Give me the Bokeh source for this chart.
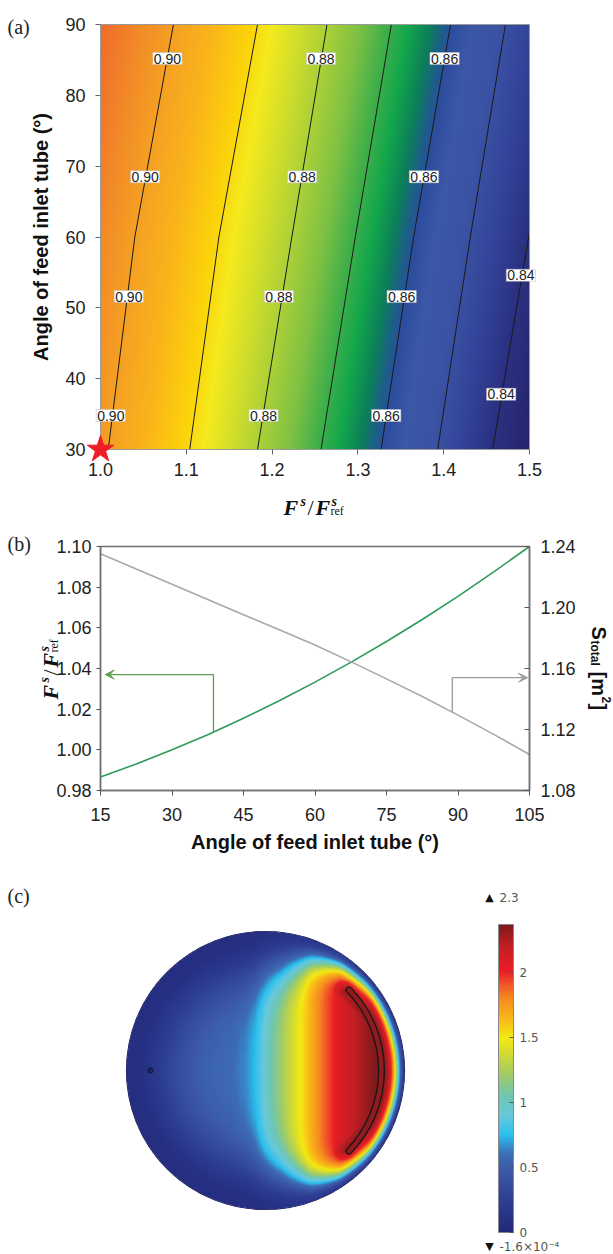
import numpy as np
from bokeh.plotting import figure
from bokeh.models import (Range1d, LinearAxis, FixedTicker, NumeralTickFormatter, Label, Grid,
                          LinearColorMapper, ColorBar, Arrow, VeeHead, CustomJSTickFormatter)
from bokeh.embed import file_html
from bokeh.resources import INLINE

SANS = "Liberation Sans"
SERIF = "Liberation Serif"

# ---------------- panel (a) data ----------------
a_levels = [0.90, 0.89, 0.88, 0.87, 0.86, 0.85, 0.84]
a_rows = [30, 60, 90]                       # angles where contour crossings were read
a_cross_30 = [1.009, 1.104, 1.183, 1.257, 1.327, 1.393, 1.457]
a_cross_60 = [1.040, 1.138, 1.223, 1.297, 1.365, 1.431, 1.499]
a_cross_90 = [1.085, 1.183, 1.264, 1.339, 1.408, 1.472, 1.540]
a_label_text = ["0.90", "0.90", "0.90", "0.90", "0.88", "0.88", "0.88", "0.88",
                "0.86", "0.86", "0.86", "0.86", "0.84", "0.84"]
a_label_x = [1.078, 1.052, 1.033, 1.012, 1.257, 1.235, 1.208, 1.190,
             1.401, 1.377, 1.351, 1.333, 1.490, 1.467]
a_label_y = [85.2, 68.5, 51.6, 34.8, 85.2, 68.5, 51.6, 34.8,
             85.2, 68.5, 51.6, 34.8, 54.6, 37.8]
a_xticks = [1.0, 1.1, 1.2, 1.3, 1.4, 1.5]
a_yticks = [30, 40, 50, 60, 70, 80, 90]
a_star = [1.0, 30]

# ---------------- panel (b) data ----------------
b_angle = [15, 22.5, 30, 37.5, 45, 52.5, 60, 67.5, 75, 82.5, 90, 97.5, 105]
b_ratio = [0.9866, 0.9930, 1.0000, 1.0074, 1.0155, 1.0241, 1.0333, 1.0430,
           1.0533, 1.0641, 1.0755, 1.0875, 1.1000]
b_area = [1.2352, 1.2252, 1.2153, 1.2053, 1.1953, 1.1854, 1.1754, 1.1645,
          1.1532, 1.1416, 1.1294, 1.1168, 1.1036]
b_xticks = [15, 30, 45, 60, 75, 90, 105]
b_lticks = [0.98, 1.00, 1.02, 1.04, 1.06, 1.08, 1.10]
b_rticks = [1.08, 1.12, 1.16, 1.20, 1.24]
b_green_arrow = [38.7, 1.037, 16.0]    # x on curve, level, arrow tip x
b_gray_arrow = [88.8, 1.154, 104.6]

# ---------------- panel (c) data ----------------
c_center = [265, 1070]      # page px
c_radius = 139
c_arc_radius = 116
c_arc_half_deg = 44
c_dot = [150, 1070]
c_prof_x = [126, 150, 190, 230, 245, 255, 265, 280, 292, 300, 312, 325, 340, 360, 375, 404]
c_prof_v = [0.58, 0.58, 0.58, 0.60, 0.66, 0.76, 0.95, 1.20, 1.38, 1.50, 1.70, 1.90,
            2.10, 2.25, 2.37, 2.37]
c_wall_x = [126, 250, 280, 310, 340, 370]
c_wall_len = [55, 55, 45, 25, 14, 10]
c_src_s = [0, 8, 15, 25, 40]
c_src_v = [2.37, 2.25, 2.05, 1.60, 0.0]
cb_low, cb_high = 0.0, 2.37
cb_ticks = [0, 0.5, 1, 1.5, 2]
cb_max_text = "2.3"
cb_min_text = "-1.6×10⁻⁴"

# ---------------- styles / geometry (page pixels) ----------------
PW, PH = 613, 1254
A_L, A_R, A_T, A_B = 100, 529, 24, 449
B_L, B_R, B_T, B_B = 100, 529, 546, 790

a_stop_v = [0.833, 0.840, 0.846, 0.851, 0.856, 0.8595, 0.861, 0.8635, 0.867, 0.871,
            0.875, 0.8805, 0.884, 0.888, 0.891, 0.8955, 0.900, 0.904, 0.9087]
a_stop_c = ["#25246E", "#2A3080", "#33449A", "#3A52A3", "#3C57A7", "#2D4D9E", "#1E5C8C",
            "#0C7F59", "#12A64B", "#44B049", "#7EC143", "#B0D236", "#D2DE2A", "#F5EA1D",
            "#FCD20A", "#F9B41A", "#F5A023", "#F28A27", "#EE6B2B"]
c_stop_v = [0.0, 0.20, 0.45, 0.60, 0.75, 0.90, 1.05, 1.20, 1.35, 1.50, 1.65, 1.80, 1.92,
            2.02, 2.20, 2.37]
c_stop_c = ["#23297A", "#2B3A8F", "#3B57A6", "#3C6CB4", "#2BC0EE", "#67C8DC", "#6FC6B0",
            "#9CCB6C", "#CBD83A", "#F4EA12", "#F9B618", "#F68B1F", "#F0502A", "#EC1C24",
            "#C41E24", "#7E1A1C"]


def ramp(vals, cols, n):
    rgb = np.array([[int(c[i:i + 2], 16) for i in (1, 3, 5)] for c in cols], float)
    t = np.linspace(vals[0], vals[-1], n)
    out = []
    for tt in t:
        r, g, b = (np.interp(tt, vals, rgb[:, k]) for k in range(3))
        out.append("#%02x%02x%02x" % (int(round(r)), int(round(g)), int(round(b))))
    return out


def rng(v0, v1, p0, p1, total):
    k = (v1 - v0) / (p1 - p0)
    return Range1d(v0 - p0 * k, v0 + (total - p0) * k)


def pg(px, py):
    return px, PH - py


p = figure(width=PW, height=PH, x_range=Range1d(0, PW), y_range=Range1d(0, PH),
           x_axis_location=None, y_axis_location=None, min_border=0,
           toolbar_location=None, output_backend="svg", title=None)
p.outline_line_color = None
p.center = [c for c in p.center if not isinstance(c, Grid)]

p.extra_x_ranges = {"ax": rng(a_xticks[0], a_xticks[-1], A_L, A_R, PW),
                    "bx": rng(b_xticks[0], b_xticks[-1], B_L, B_R, PW)}
p.extra_y_ranges = {"ay": rng(a_yticks[0], a_yticks[-1], PH - A_B, PH - A_T, PH),
                    "by": rng(b_lticks[0], b_lticks[-1], PH - B_B, PH - B_T, PH),
                    "br": rng(b_rticks[0], b_rticks[-1], PH - B_B, PH - B_T, PH)}
RA = dict(x_range_name="ax", y_range_name="ay")
RB = dict(x_range_name="bx", y_range_name="by")
RR = dict(x_range_name="bx", y_range_name="br")


def style_axis(ax, size="18px"):
    ax.major_label_text_font = SANS
    ax.major_label_text_font_size = size
    ax.major_label_text_color = "#222222"
    ax.minor_tick_line_color = None
    ax.axis_label_text_font = SANS
    ax.axis_label_text_font_size = "20px"
    ax.axis_label_text_font_style = "bold"
    ax.axis_label_text_color = "#111111"


def compose(pieces, bx, by, angle):
    for text, along, off, size, style, font in pieces:
        if angle == 0:
            px, py = bx + along, by - off
        elif angle == 90:
            px, py = bx - off, by - along
        else:
            px, py = bx + off, by + along
        x, y = pg(px, py)
        p.add_layout(Label(x=x, y=y, text=text, angle=np.radians(angle),
                           text_font=font, text_font_size=f"{size}px",
                           text_font_style=style, text_align="left",
                           text_baseline="alphabetic", text_color="#111111"))


def panel_tag(text, px, py):
    x, y = pg(px, py)
    p.add_layout(Label(x=x, y=y, text=text, text_font=SERIF, text_font_size="20px",
                       text_color="#222222", text_align="left", text_baseline="alphabetic"))


frac_pieces = [("F", 0, 0, 22, "bold italic", SERIF), ("s", 17, 6, 14, "bold italic", SERIF),
               ("/", 24, 0, 22, "normal", SERIF), ("F", 32, 0, 22, "bold italic", SERIF),
               ("s", 48, 6, 14, "bold italic", SERIF), ("ref", 47, -3, 12, "normal", SERIF)]

# ====================== panel (a) ======================
nx, ny = A_R - A_L, A_B - A_T
x0, x1, y0, y1 = a_xticks[0], a_xticks[-1], a_yticks[0], a_yticks[-1]
gx = x0 + (np.arange(nx) + 0.5) / nx * (x1 - x0)
gy = y0 + (np.arange(ny) + 0.5) / ny * (y1 - y0)
lv = np.array(a_levels)
Z = np.zeros((ny, nx))
for j, yy in enumerate(gy):
    pos = np.array([np.interp(yy, a_rows, [a_cross_30[k], a_cross_60[k], a_cross_90[k]])
                    for k in range(len(lv))])
    row = np.interp(-gx, -pos[::-1], lv[::-1])
    sl = (lv[1] - lv[0]) / (pos[1] - pos[0])
    sr = (lv[-1] - lv[-2]) / (pos[-1] - pos[-2])
    row = np.where(gx < pos[0], lv[0] + (gx - pos[0]) * sl, row)
    row = np.where(gx > pos[-1], lv[-1] + (gx - pos[-1]) * sr, row)
    Z[j] = row
map_a = LinearColorMapper(palette=ramp(a_stop_v, a_stop_c, 512), low=a_stop_v[0], high=a_stop_v[-1])
p.image(image=[Z.astype(np.float32)], x=x0, y=y0, dw=x1 - x0, dh=y1 - y0, color_mapper=map_a, **RA)

for k in range(len(a_levels)):
    xs = [a_cross_30[k], a_cross_60[k], a_cross_90[k]]
    ys = list(a_rows)
    if xs[-1] > x1:   # clip the line at the right edge of the map
        yc = float(np.interp(x1, xs, ys))
        keep = [i for i in range(3) if xs[i] <= x1]
        xs = [xs[i] for i in keep] + [x1]
        ys = [ys[i] for i in keep] + [yc]
    p.line(x=xs, y=ys, line_color="#1a1a1a", line_width=1, **RA)

p.quad(left=[x0], right=[x1], bottom=[y0], top=[y1], fill_color=None,
       line_color="#9a9a9a", line_width=1, **RA)

for t, x, y in zip(a_label_text, a_label_x, a_label_y):
    p.add_layout(Label(x=x, y=y, text=t, text_align="center", text_baseline="middle",
                       text_font=SANS, text_font_size="14px", text_color="#222222",
                       background_fill_color="white", border_line_color="#bbbbbb",
                       border_line_width=0.5, padding=1, **RA))

axA_x = LinearAxis(fixed_location=y0, bounds=(x0, x1), ticker=FixedTicker(ticks=a_xticks),
                   formatter=NumeralTickFormatter(format="0.0"), **RA)
axA_y = LinearAxis(fixed_location=x0, bounds=(y0, y1), ticker=FixedTicker(ticks=a_yticks), **RA)
for ax in (axA_x, axA_y):
    style_axis(ax)
    ax.axis_line_color = "#9a9a9a"
    ax.major_tick_line_color = "#666666"
    ax.major_tick_out = 5
    ax.major_tick_in = 0
axA_x.major_label_standoff = 8
axA_y.major_label_standoff = 10
axA_y.axis_label = "Angle of feed inlet tube (°)"
axA_y.axis_label_standoff = 10
p.add_layout(axA_x, "below")
p.add_layout(axA_y, "left")

star = p.scatter(x=[a_star[0]], y=[a_star[1]], marker="star", size=28, fill_color="#EE1C25",
                 line_color="#EE1C25", **RA)
star.level = "overlay"

compose(frac_pieces, 283, 507, 0)
panel_tag("(a)", 7, 26)

# ====================== panel (b) ======================
p.line(b_angle, b_ratio, line_color="#2E9B5A", line_width=1.6, **RB)
p.line(b_angle, b_area, line_color="#A8A8A8", line_width=1.6, **RR)
bx0, bx1 = b_xticks[0], b_xticks[-1]
p.quad(left=[bx0], right=[bx1], bottom=[b_lticks[0]], top=[b_lticks[-1]], fill_color=None,
       line_color="#707070", line_width=1.5, **RB)

gx0, gyl, gtip = b_green_arrow
g_on = float(np.interp(gx0, b_angle, b_ratio))
p.segment(x0=[gx0], y0=[g_on], x1=[gx0], y1=[gyl], line_color="#5E9E4E", line_width=1.3, **RB)
p.add_layout(Arrow(end=VeeHead(size=9, line_color="#5E9E4E", fill_color="#5E9E4E", line_width=1),
                   x_start=gx0, y_start=gyl, x_end=gtip, y_end=gyl,
                   line_color="#5E9E4E", line_width=1.3, **RB))
rx0, ryl, rtip = b_gray_arrow
r_on = float(np.interp(rx0, b_angle, b_area))
p.segment(x0=[rx0], y0=[r_on], x1=[rx0], y1=[ryl], line_color="#9A9A9A", line_width=1.3, **RR)
p.add_layout(Arrow(end=VeeHead(size=9, line_color="#9A9A9A", fill_color="#9A9A9A", line_width=1),
                   x_start=rx0, y_start=ryl, x_end=rtip, y_end=ryl,
                   line_color="#9A9A9A", line_width=1.3, **RR))

axB_x = LinearAxis(fixed_location=b_lticks[0], bounds=(bx0, bx1),
                   ticker=FixedTicker(ticks=b_xticks), **RB)
axB_l = LinearAxis(fixed_location=bx0, bounds=(b_lticks[0], b_lticks[-1]),
                   ticker=FixedTicker(ticks=b_lticks), formatter=NumeralTickFormatter(format="0.00"), **RB)
axB_r = LinearAxis(fixed_location=bx1, bounds=(b_rticks[0], b_rticks[-1]),
                   ticker=FixedTicker(ticks=b_rticks), formatter=NumeralTickFormatter(format="0.00"), **RR)
for ax in (axB_x, axB_l, axB_r):
    style_axis(ax)
    ax.axis_line_color = "#707070"
    ax.axis_line_width = 1.5
    ax.major_tick_line_color = "#555555"
axB_x.major_tick_out = 5
axB_x.major_tick_in = 0
axB_x.major_label_standoff = 12
axB_x.axis_label = "Angle of feed inlet tube (°)"
axB_x.axis_label_standoff = 7
axB_l.major_tick_out = 4
axB_l.major_tick_in = 0
axB_l.major_label_standoff = 5
axB_r.major_tick_out = 0
axB_r.major_tick_in = 5
axB_r.major_label_standoff = 11
p.add_layout(axB_x, "below")
p.add_layout(axB_l, "left")
p.add_layout(axB_r, "right")

compose(frac_pieces, 50, 699, 90)
s_pieces = [("S", 0, 0, 20, "bold", SANS), ("total", 14, -4, 12, "bold", SANS),
            ("[m", 45, 0, 20, "bold", SANS), ("2", 70, 8, 12, "bold", SANS),
            ("]", 77, 0, 20, "bold", SANS)]
compose(s_pieces, 598, 626, -90)
panel_tag("(b)", 7, 543)

# ====================== panel (c) ======================
ccx, ccy = pg(*c_center)
R = c_radius
n = 2 * R
xs = ccx - R + np.arange(n) + 0.5
ys = ccy - R + np.arange(n) + 0.5
X, Y = np.meshgrid(xs, ys)
dx, dy = X - ccx, Y - ccy
r = np.hypot(dx, dy)
d = np.clip(R - r, 0, None)
th = np.degrees(np.abs(np.arctan2(dy, dx)))
P = np.interp(X, c_prof_x, c_prof_v)
ha = np.radians(c_arc_half_deg)
ex, ey = ccx + c_arc_radius * np.cos(ha), c_arc_radius * np.sin(ha)
s_end = np.hypot(X - ex, np.abs(dy) - ey)
s = np.where(th <= c_arc_half_deg, np.abs(r - c_arc_radius), s_end)
Q = np.interp(s, c_src_s, c_src_v)
L = np.interp(X, c_wall_x, c_wall_len)
W = 1 - 0.9 * np.exp(-(d / L) ** 2)
V = np.maximum(P, Q) * W
V[r > R] = np.nan
map_c = LinearColorMapper(palette=ramp(c_stop_v, c_stop_c, 256), low=cb_low, high=cb_high,
                          nan_color=(0, 0, 0, 0))
p.image(image=[V.astype(np.float32)], x=ccx - R, y=ccy - R, dw=n, dh=n, color_mapper=map_c)
p.circle(x=[ccx], y=[ccy], radius=R, fill_color=None, line_color="#2B2F70", line_width=1.2)
p.arc(x=[ccx], y=[ccy], radius=c_arc_radius, start_angle=-ha, end_angle=ha,
      line_color="#151515", line_width=7, line_cap="round")
p.arc(x=[ccx], y=[ccy], radius=c_arc_radius, start_angle=-ha, end_angle=ha,
      line_color="#8E1B1E", line_width=4.5, line_cap="round")
dxp, dyp = pg(*c_dot)
p.scatter(x=[dxp], y=[dyp], size=5, fill_color="#1E2560", line_color="#111133", line_width=1)

cb = ColorBar(color_mapper=map_c, ticker=FixedTicker(ticks=cb_ticks),
              formatter=CustomJSTickFormatter(code="return tick.toString()"),
              width=15, height=308, location=(498, 22), padding=0, margin=0,
              label_standoff=6, major_label_text_font="DejaVu Sans",
              major_label_text_font_size="12px", major_label_text_color="#555555",
              major_tick_line_color="#555555", major_tick_in=4, major_tick_out=0,
              minor_tick_line_color=None, bar_line_color="#888888", bar_line_width=1,
              background_fill_alpha=0, border_line_color=None)
p.add_layout(cb)

for tri, txt, py in (("▲", cb_max_text, 897), ("▼", cb_min_text, 1246)):
    x, y = pg(489, py)
    p.add_layout(Label(x=x, y=y, text=tri, text_align="center", text_baseline="middle",
                       text_font="DejaVu Sans", text_font_size="11px", text_color="#111111"))
    x, y = pg(499, py)
    p.add_layout(Label(x=x, y=y, text=txt, text_align="left", text_baseline="middle",
                       text_font="DejaVu Sans", text_font_size="12px", text_color="#555555"))
panel_tag("(c)", 7, 895)

open("out.html", "w").write(file_html(p, INLINE))
